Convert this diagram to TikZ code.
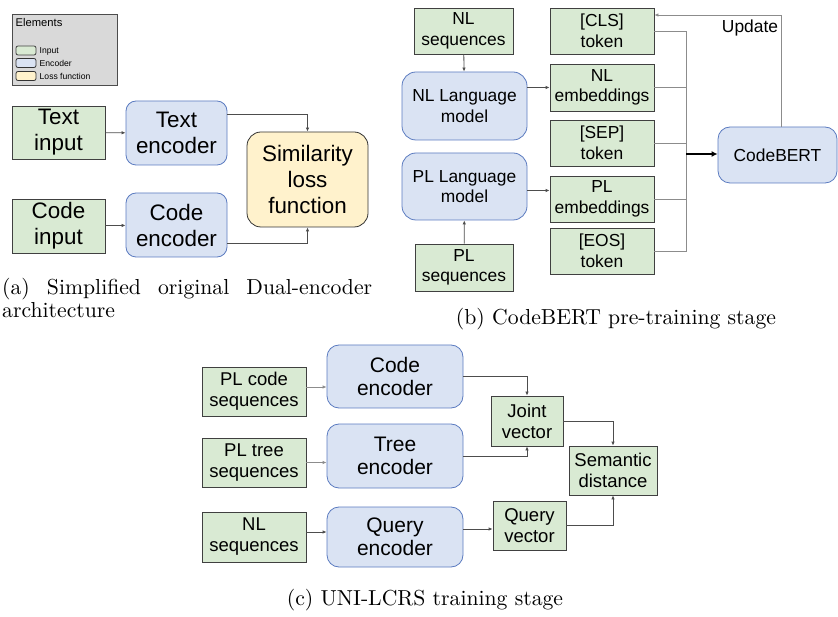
\documentclass[tikz,border=0pt]{standalone}
\usepackage{fontspec}
\usepackage{graphicx}
\usetikzlibrary{arrows.meta}
\newfontfamily\arialfont{Liberation Sans}
\newcommand{\fa}{\arialfont\fontsize{22.4}{26}\selectfont}
\newcommand{\fb}{\arialfont\fontsize{17.4}{20.5}\selectfont}
\newcommand{\fc}{\arialfont\fontsize{21}{23}\selectfont}
\newcommand{\fci}{\arialfont\fontsize{18.5}{21}\selectfont}
\newcommand{\fl}{\arialfont\fontsize{8.6}{10}\selectfont}
\newcommand{\flt}{\arialfont\fontsize{11.2}{13}\selectfont}
\newcommand{\capscale}[1]{\scalebox{2.17}{#1}}
\definecolor{ingreen}{HTML}{D9EAD3}
\definecolor{encblue}{HTML}{DAE3F3}
\definecolor{encline}{HTML}{5B7BC0}
\definecolor{lossyellow}{HTML}{FFF2CC}
\definecolor{legendgray}{HTML}{D9D9D9}
\definecolor{wirecol}{HTML}{4D4D4D}
\definecolor{lightwire}{HTML}{8C8C8C}
\tikzset{
  inbox/.style={draw=black!75, fill=ingreen, line width=0.8pt, align=center, inner sep=0pt},
  encbox/.style={draw=encline, fill=encblue, line width=0.8pt, rounded corners=#1, align=center, inner sep=0pt},
  encbox/.default=12pt,
  lossbox/.style={draw=black!80, fill=lossyellow, line width=0.8pt, rounded corners=14pt, align=center, inner sep=0pt},
  swatch/.style={minimum width=20pt, minimum height=9pt, rounded corners=2pt},
  wire/.style={draw=wirecol, line width=0.8pt, -{Latex[length=4pt,width=3.5pt]}},
  lightwire/.style={wire, draw=lightwire},
  bus/.style={draw=lightwire, line width=0.8pt}
}
\begin{document}
\begin{tikzpicture}[x=1pt, y=-1pt]
\useasboundingbox (0,0) rectangle (838,617);
% legend
\node[draw=black!70, fill=legendgray, minimum width=105pt, minimum height=71pt, inner sep=0pt] (legend) at (64.5,49.5) {};
\node[anchor=base west, inner sep=0pt, font=\flt] (legtitle) at (15.5,27) {Elements};
\node[inbox, swatch] (swin) at (26,50.5) {};
\node[encbox=2pt, swatch, draw=black!80] (swenc) at (26,63) {};
\node[lossbox, swatch] (swloss) at (26,76) {};
\node[anchor=base west, inner sep=0pt, font=\fl] (legin) at (39.5,54) {Input};
\node[anchor=base west, inner sep=0pt, font=\fl] (legenc) at (39.5,66.5) {Encoder};
\node[anchor=base west, inner sep=0pt, font=\fl] (legloss) at (39.5,79.5) {Loss function};

% (a) dual encoder
\node[inbox, minimum width=93pt, minimum height=53pt, font=\fa] (txtin) at (58.5,132.5) {Text\\input};
\node[encbox=10pt, minimum width=101pt, minimum height=64pt, font=\fa] (txtenc) at (176.5,133) {Text\\encoder};
\node[lossbox, minimum width=121pt, minimum height=95pt, font=\fa] (simloss) at (307.5,179.5) {Similarity\\loss\\function};
\node[inbox, minimum width=93pt, minimum height=54pt, font=\fa] (codein) at (58.5,226) {Code\\input};
\node[encbox=10pt, minimum width=101pt, minimum height=64pt, font=\fa] (codeenc) at (176.5,225) {Code\\encoder};
\draw[wire] (txtin) -- (txtenc);
\draw[wire] (codein) -- (codeenc);
\draw[wire] ([yshift=19pt]txtenc.east) -| (simloss.north);
\draw[wire] ([yshift=-18pt]codeenc.east) -| (simloss.south);
\node[anchor=base west, inner sep=0pt] (capa) at (2,295) {\capscale{\parbox[t]{170.5pt}{\fontsize{10}{8.5}\selectfont (a)\hfill Simplified\hfill original\hfill Dual-encoder\\architecture}}};

% (b) CodeBERT
\node[inbox, minimum width=99pt, minimum height=46pt, font=\fb] (nlseq) at (463.5,31) {NL\\sequences};
\node[encbox=14pt, minimum width=125pt, minimum height=68pt, font=\fb] (nllm) at (464.5,106) {NL Language\\model};
\node[encbox=14pt, minimum width=125pt, minimum height=67pt, font=\fb] (pllm) at (464.5,186.5) {PL Language\\model};
\node[inbox, minimum width=98pt, minimum height=47pt, font=\fb] (plseq) at (464,267.5) {PL\\sequences};
\node[inbox, minimum width=104pt, minimum height=46pt, font=\fb] (cls) at (602,31) {[CLS]\\token};
\node[inbox, minimum width=104pt, minimum height=47pt, font=\fb] (nlemb) at (602,87.5) {NL\\embeddings};
\node[inbox, minimum width=104pt, minimum height=46pt, font=\fb] (sep) at (602,143) {[SEP]\\token};
\node[inbox, minimum width=104pt, minimum height=46pt, font=\fb] (plemb) at (602,199) {PL\\embeddings};
\node[inbox, minimum width=104pt, minimum height=46pt, font=\fb] (eos) at (602,251) {[EOS]\\token};
\node[encbox=12pt, minimum width=119pt, minimum height=56pt, font=\fb] (codebert) at (777.5,155) {CodeBERT};
\coordinate (join) at (686,154);
\draw[wire] (nlseq) -- (nllm);
\draw[wire] (plseq) -- (pllm);
\draw[wire] (nllm.east |- nlemb.west) -- (nlemb.west);
\draw[wire] ([yshift=-4pt]pllm.east) -- ([yshift=-4pt]pllm.east -| plemb.west);
\draw[bus] (cls.east) -| (join);
\draw[bus] (eos.east) -| (join);
\draw[bus] (nlemb.east) -- (nlemb.east -| join);
\draw[bus] (sep.east) -- (sep.east -| join);
\draw[bus] (plemb.east) -- (plemb.east -| join);
\draw[wire, line width=1.8pt, -{Latex[length=6pt,width=6pt]}, draw=black] (join) -- (join -| codebert.west);
\draw[lightwire] ([xshift=3.5pt]codebert.north) |- ([yshift=16pt]cls.east);
\node[anchor=base, inner sep=0pt, font=\fb] (lblupdate) at (750,33) {Update};
\node[anchor=base, inner sep=0pt] (capb) at (616,325) {\capscale{(b) CodeBERT pre-training stage}};

% (c) UNI-LCRS
\node[inbox, minimum width=104pt, minimum height=49pt, font=\fci] (plcode) at (254,391.5) {PL code\\sequences};
\node[inbox, minimum width=104pt, minimum height=49pt, font=\fci] (pltree) at (254,462.5) {PL tree\\sequences};
\node[inbox, minimum width=104pt, minimum height=50pt, font=\fci] (nlseqc) at (254,537) {NL\\sequences};
\node[encbox, minimum width=136pt, minimum height=63pt, font=\fc] (codeencc) at (395,376.5) {Code\\encoder};
\node[encbox, minimum width=136pt, minimum height=64pt, font=\fc] (treeenc) at (395,456) {Tree\\encoder};
\node[encbox, minimum width=136pt, minimum height=60pt, font=\fc] (queryenc) at (395,537) {Query\\encoder};
\node[inbox, minimum width=72pt, minimum height=50pt, font=\fci] (joint) at (527,421) {Joint\\vector};
\node[inbox, minimum width=88pt, minimum height=49pt, font=\fci] (semdist) at (613,470.5) {Semantic\\distance};
\node[inbox, minimum width=73pt, minimum height=49pt, font=\fci] (queryvec) at (529.5,525.5) {Query\\vector};
\draw[lightwire] ([yshift=4.5pt]plcode.east) -- ([yshift=4.5pt]plcode.east -| codeencc.west);
\draw[lightwire] (pltree.east) -- (pltree.east -| treeenc.west);
\draw[wire] ([yshift=5pt]nlseqc.east) -- ([yshift=5pt]nlseqc.east -| queryenc.west);
\draw[wire] (codeencc.east) -| (joint.north);
\draw[wire] (treeenc.east) -| (joint.south);
\draw[wire] (joint.east) -| (semdist.north);
\draw[wire] ([yshift=8pt]queryenc.east) -- ([yshift=8pt]queryenc.east -| queryvec.west);
\draw[wire] (queryvec.east) -| (semdist.south);
\node[anchor=base, inner sep=0pt] (capc) at (425,605) {\capscale{(c) UNI-LCRS training stage}};
\end{tikzpicture}
\end{document}
